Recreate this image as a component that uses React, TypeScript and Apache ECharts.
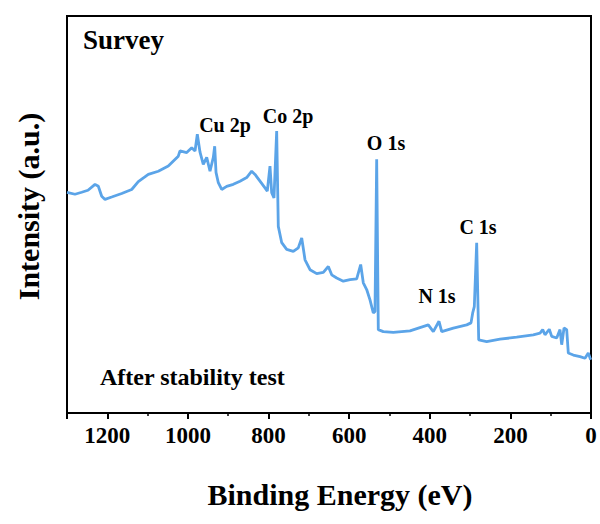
import React, { useEffect, useRef } from "react";
import * as echarts from "echarts";

// Binding energy (eV) and intensity (a.u.)
const bindingEnergy = [
  1300, 1280.2, 1263.5, 1247.9, 1230.5, 1222.3, 1213.9, 1205.7, 1189.1, 1164.3,
  1139.5, 1123.1, 1098.3, 1073.5, 1048.7, 1023.9, 1019.7, 1003.0, 990.6, 982.4,
  976.7, 970.0, 961.9, 953.4, 945.2, 937.0, 933.6, 930.3, 924.6, 916.2,
  903.8, 887.4, 870.8, 854.2, 841.8, 833.6, 821.2, 808.8, 803.1, 796.4,
  792.2, 786.5, 779.8, 775.8, 767.3, 755.0, 738.6, 726.2, 717.7, 709.5,
  697.1, 680.5, 664.1, 651.7, 643.3, 630.9, 614.5, 597.9, 581.3, 571.4,
  564.9, 556.5, 548.3, 540.1, 535.9, 531.7, 527.7, 515.3, 490.5, 449.1,
  403.6, 391.2, 377.1, 370.4, 341.6, 308.4, 297.7, 293.5, 289.5, 283.6,
  278.6, 258.8, 225.8, 184.4, 143.2, 126.5, 119.8, 114.1, 103.5, 97.5,
  85.1, 76.9, 72.7, 66.9, 60.3, 56.3, 43.9, 27.3, 14.9, 6.7, 0.8,
];
const intensity = [
  55.6, 55.1, 55.6, 56.1, 57.6, 57.1, 54.6, 53.8, 54.4, 55.3,
  56.3, 58.3, 60.1, 60.9, 62.2, 64.7, 66.0, 65.6, 66.8, 66.0,
  70.2, 65.7, 62.6, 64.4, 60.9, 64.4, 67.2, 60.6, 58.0, 56.3,
  57.1, 57.6, 58.4, 59.3, 60.9, 60.1, 58.4, 56.7, 55.9, 62.2,
  55.5, 54.2, 71.0, 47.0, 42.9, 41.2, 40.7, 41.6, 44.1, 38.6,
  36.1, 35.1, 35.4, 36.9, 34.8, 34.0, 33.2, 33.6, 33.8, 37.4,
  32.8, 31.1, 28.5, 25.2, 25.6, 63.9, 21.0, 20.5, 20.3, 20.7,
  22.2, 20.5, 23.1, 20.5, 21.4, 22.2, 22.7, 25.2, 26.8, 42.9,
  18.4, 18.0, 18.6, 19.1, 19.7, 20.1, 21.0, 19.7, 21.1, 19.3,
  18.9, 21.0, 17.2, 21.4, 21.0, 15.1, 14.6, 14.2, 13.8, 15.1, 13.4,
];

const peakLabels = ["Cu 2p", "Co 2p", "O 1s", "N 1s", "C 1s"];
const xTicks = [0, 200, 400, 600, 800, 1000, 1200];

const FONT = "'Liberation Serif', 'Times New Roman', serif";

export default function App() {
  const ref = useRef<HTMLDivElement>(null);
  useEffect(() => {
    if (!ref.current) return;
    const chart = echarts.init(ref.current, undefined, { renderer: "svg" });
    const data = bindingEnergy.map((e, i) => [e, intensity[i]]);
    const labelPos = [
      [225, 125],
      [288, 116],
      [386, 143],
      [437, 296],
      [478, 227],
    ];
    chart.setOption({
      animation: false,
      backgroundColor: "#ffffff",
      grid: {
        left: 67,
        right: 9,
        top: 16,
        bottom: 111,
        show: true,
        borderColor: "#000",
        borderWidth: 2,
        backgroundColor: "transparent",
      },
      xAxis: {
        type: "value",
        inverse: true,
        min: 0,
        max: 1300,
        interval: 200,
        name: "Binding Energy (eV)",
        nameLocation: "middle",
        nameGap: 66,
        nameTextStyle: {
          fontFamily: FONT,
          fontWeight: "bold",
          fontSize: 30,
          color: "#000",
          padding: [0, 0, 0, 22],
        },
        axisLine: { show: true, onZero: false, lineStyle: { color: "#000", width: 2 } },
        axisTick: { show: true, inside: false, length: 6, lineStyle: { color: "#000", width: 2 } },
        minorTick: { show: true, splitNumber: 2, length: 3, lineStyle: { color: "#000", width: 1.5 } },
        axisLabel: {
          fontFamily: FONT,
          fontWeight: "bold",
          fontSize: 23,
          color: "#000",
          margin: 11,
          formatter: (v: number) => (xTicks.includes(v) ? String(v) : ""),
        },
        splitLine: { show: false },
      },
      yAxis: {
        type: "value",
        min: 0,
        max: 100,
        name: "Intensity (a.u.)",
        nameLocation: "middle",
        nameGap: 24,
        nameTextStyle: {
          fontFamily: FONT,
          fontWeight: "bold",
          fontSize: 30,
          color: "#000",
          padding: [0, 0, 0, 16],
        },
        axisLine: { show: true, lineStyle: { color: "#000", width: 2 } },
        axisTick: { show: false },
        axisLabel: { show: false },
        splitLine: { show: false },
      },
      series: [
        {
          type: "line",
          data,
          showSymbol: false,
          symbol: "none",
          lineStyle: { color: "#5ba4e8", width: 2.8 },
          z: 3,
        },
      ],
      graphic: [
        {
          type: "text",
          x: 83,
          y: 40,
          style: {
            text: "Survey",
            font: `bold 27px ${FONT}`,
            fill: "#000",
            verticalAlign: "middle",
          },
        },
        {
          type: "text",
          x: 100,
          y: 377,
          style: {
            text: "After stability test",
            font: `bold 24px ${FONT}`,
            fill: "#000",
            verticalAlign: "middle",
          },
        },
        ...peakLabels.map((t, i) => ({
          type: "text",
          x: labelPos[i][0],
          y: labelPos[i][1],
          style: {
            text: t,
            font: `bold 20px ${FONT}`,
            fill: "#000",
            align: "center",
            verticalAlign: "middle",
          },
        })),
      ],
    });
    return () => chart.dispose();
  }, []);
  return (
    <div
      ref={ref}
      style={{ position: "absolute", left: 0, top: 0, width: 600, height: 524 }}
    />
  );
}
